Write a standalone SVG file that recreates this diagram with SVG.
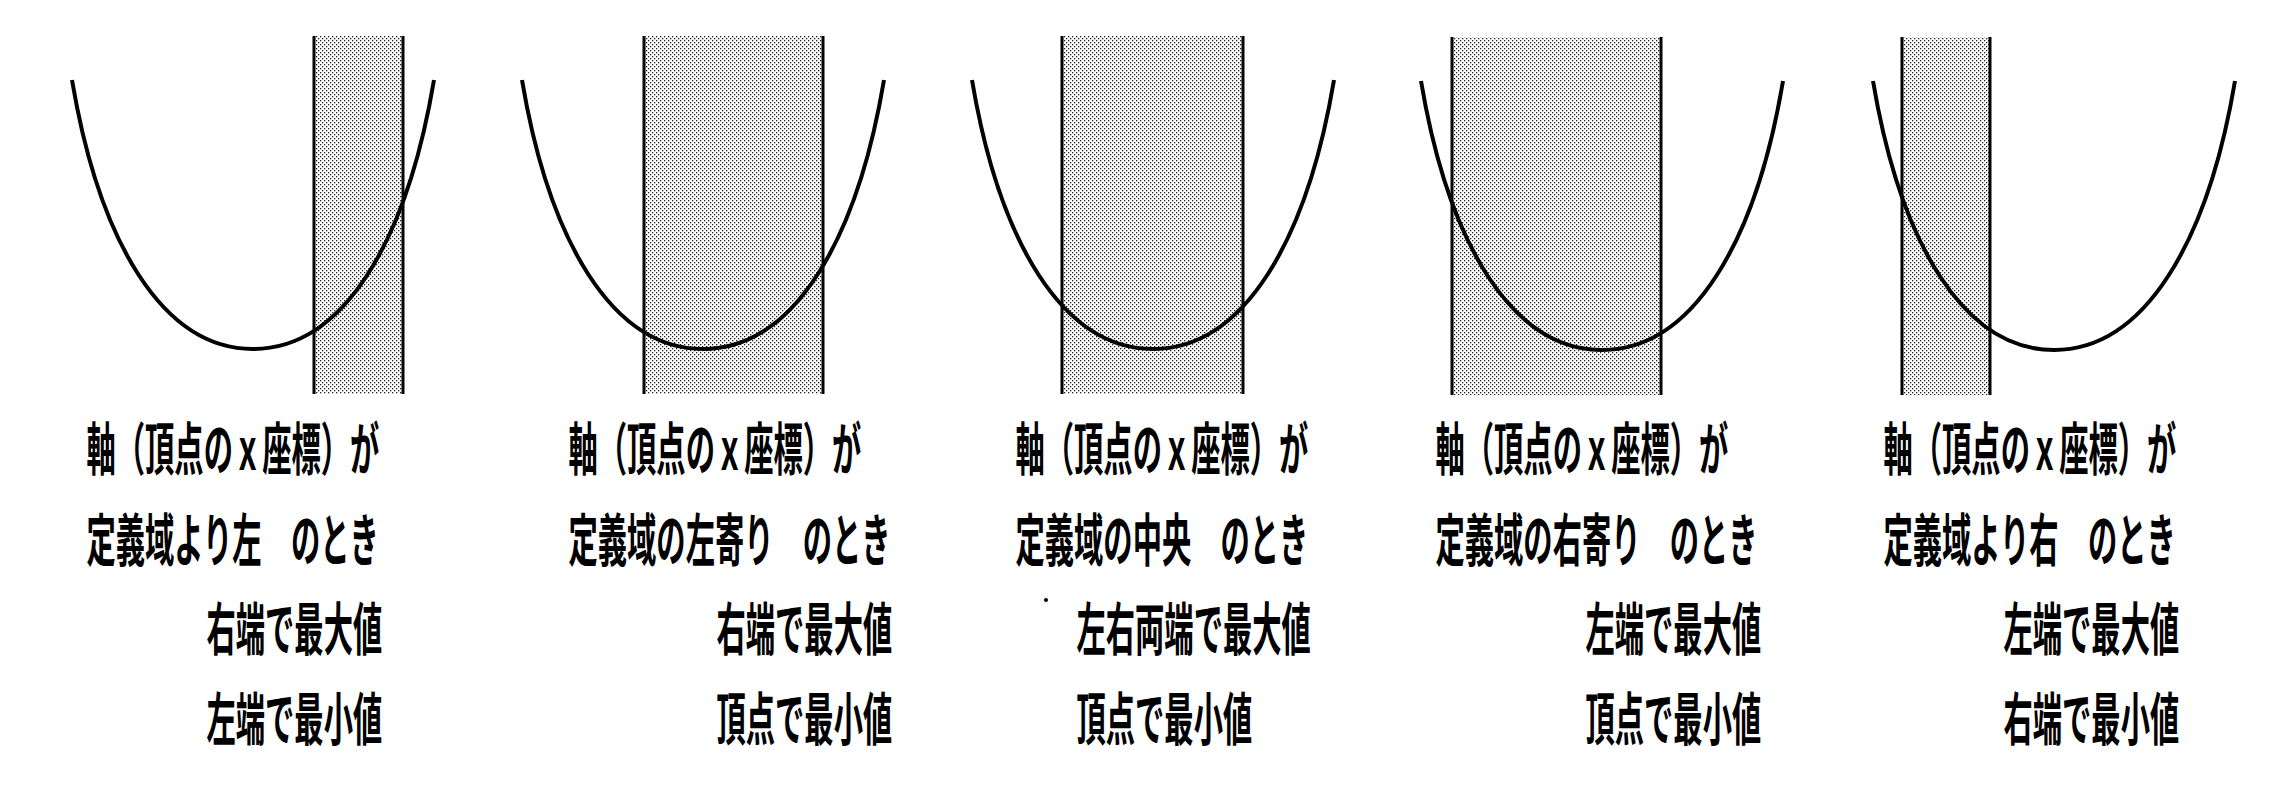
<svg xmlns="http://www.w3.org/2000/svg" width="2293" height="811" viewBox="0 0 2293 811">
<defs>
<pattern id="dots" width="4" height="4" patternUnits="userSpaceOnUse">
<rect width="4" height="4" fill="#ffffff"/>
<rect x="0" y="0" width="1.3" height="1.3" fill="#222"/>
<rect x="2" y="2" width="1.3" height="1.3" fill="#222"/>
</pattern>
</defs>
<style>
.band{fill:url(#dots);stroke:none}
.edge{stroke:#000;stroke-width:3;fill:none}
.curve{stroke:#000;stroke-width:4;fill:none}
.t{font-family:"Noto Sans CJK JP","Noto Sans CJK SC",sans-serif;font-size:57px;font-weight:700;fill:#000}
</style>
<rect width="2293" height="811" fill="#fff"/>

<g id="panel1">
<rect class="band" x="314" y="36" width="89" height="358"/>
<path class="curve" d="M72,80 C99.15,241.4 162.5,349 253,349 C343.5,349 406.85,241.4 434,80"/>
<path class="edge" d="M314,36V394M403,36V394"/>
<text class="t" transform="matrix(0.514 0 0 1 86.5 470)">軸（頂点のｘ座標）が</text>
<text class="t" transform="matrix(0.514 0 0 1 86.5 561)">定義域より左　のとき</text>
<text class="t" transform="matrix(0.514 0 0 1 206.5 650)">右端で最大値</text>
<text class="t" transform="matrix(0.514 0 0 1 206.5 740)">左端で最小値</text>
</g>

<g id="panel2">
<rect class="band" x="644" y="36" width="179" height="358"/>
<path class="curve" d="M522,80 C549.15,241.4 612.5,349 703,349 C793.5,349 856.85,241.4 884,80"/>
<path class="edge" d="M644,36V394M823,36V394"/>
<text class="t" transform="matrix(0.514 0 0 1 568.5 470)">軸（頂点のｘ座標）が</text>
<text class="t" transform="matrix(0.514 0 0 1 568.5 561)">定義域の左寄り　のとき</text>
<text class="t" transform="matrix(0.514 0 0 1 716.5 650)">右端で最大値</text>
<text class="t" transform="matrix(0.514 0 0 1 716.5 740)">頂点で最小値</text>
</g>

<g id="panel3">
<rect class="band" x="1062" y="36" width="181" height="358"/>
<path class="curve" d="M972,80 C999.15,241.4 1062.5,349 1153,349 C1243.5,349 1306.85,241.4 1334,80"/>
<path class="edge" d="M1062,36V394M1243,36V394"/>
<text class="t" transform="matrix(0.514 0 0 1 1015.5 470)">軸（頂点のｘ座標）が</text>
<text class="t" transform="matrix(0.514 0 0 1 1015.5 561)">定義域の中央　のとき</text>
<circle cx="1046" cy="600" r="2" fill="#000"/>
<text class="t" transform="matrix(0.514 0 0 1 1076.5 650)">左右両端で最大値</text>
<text class="t" transform="matrix(0.514 0 0 1 1076.5 740)">頂点で最小値</text>
</g>

<g id="panel4">
<rect class="band" x="1452" y="37" width="209" height="358"/>
<path class="curve" d="M1421,81 C1448.15,242.4 1511.5,350 1602,350 C1692.5,350 1755.85,242.4 1783,81"/>
<path class="edge" d="M1452,37V395M1661,37V395"/>
<text class="t" transform="matrix(0.514 0 0 1 1435.5 470)">軸（頂点のｘ座標）が</text>
<text class="t" transform="matrix(0.514 0 0 1 1435.5 561)">定義域の右寄り　のとき</text>
<text class="t" transform="matrix(0.514 0 0 1 1585.5 650)">左端で最大値</text>
<text class="t" transform="matrix(0.514 0 0 1 1585.5 740)">頂点で最小値</text>
</g>

<g id="panel5">
<rect class="band" x="1902" y="37" width="88" height="358"/>
<path class="curve" d="M1873,81 C1900.15,242.4 1963.5,350 2054,350 C2144.5,350 2207.85,242.4 2235,81"/>
<path class="edge" d="M1902,37V395M1990,37V395"/>
<text class="t" transform="matrix(0.514 0 0 1 1883.5 470)">軸（頂点のｘ座標）が</text>
<text class="t" transform="matrix(0.514 0 0 1 1883.5 561)">定義域より右　のとき</text>
<text class="t" transform="matrix(0.514 0 0 1 2003.5 650)">左端で最大値</text>
<text class="t" transform="matrix(0.514 0 0 1 2003.5 740)">右端で最小値</text>
</g>
</svg>
